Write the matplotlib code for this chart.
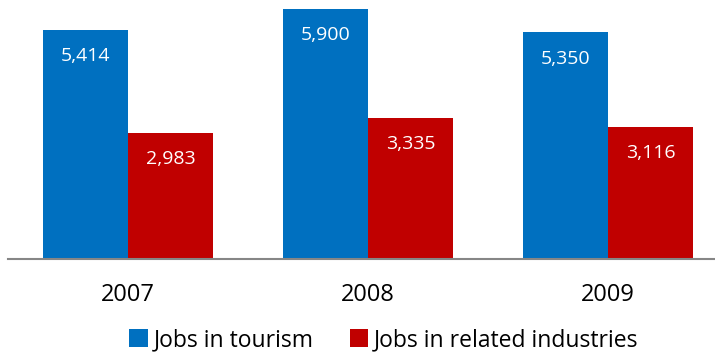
import matplotlib
matplotlib.use("Agg")
import matplotlib.pyplot as plt
import numpy as np
from matplotlib.patches import Patch

plt.rcParams['font.family'] = ['Open Sans', 'DejaVu Sans']

years = ["2007", "2008", "2009"]
tourism = [5414, 5900, 5350]
related = [2983, 3335, 3116]
series_names = ["Jobs in tourism", "Jobs in related industries"]
colors = ["#0070C0", "#C00000"]

W, H = 715, 354
fig = plt.figure(figsize=(W / 100, H / 100), dpi=100)

# plot area: x from 8 to 728 px (3 categories of 240 px), baseline at y=259
left, right = 8, 728
bottom_px, top_px = 259, 0
ax = fig.add_axes([left / W, 1 - bottom_px / H, (right - left) / W, (bottom_px - top_px) / H])

x = np.arange(len(years))
bw = 0.356
ax.bar(x - bw / 2, tourism, bw, color=colors[0], edgecolor="none")
ax.bar(x + bw / 2, related, bw, color=colors[1], edgecolor="none")

for xi, v in zip(x - bw / 2, tourism):
    ax.annotate(f"{v:,}", (xi, v), xytext=(0, -19), textcoords="offset points",
                ha="center", va="center", color="white", fontsize=14)
for xi, v in zip(x + bw / 2, related):
    ax.annotate(f"{v:,}", (xi, v), xytext=(0, -19), textcoords="offset points",
                ha="center", va="center", color="white", fontsize=14)

ax.set_xlim(-0.5, 2.5)
ax.set_ylim(0, 259 / 0.04239)
ax.set_xticks(x)
ax.set_xticklabels(years, fontsize=17)
ax.tick_params(axis="x", length=0, pad=17)
ax.set_yticks([])
for s in ["top", "right", "left"]:
    ax.spines[s].set_visible(False)
ax.spines["bottom"].set_color("#868686")
ax.spines["bottom"].set_linewidth(1.5)

handles = [Patch(facecolor=c, edgecolor="none") for c in colors]
fig.legend(handles, series_names, loc="center", bbox_to_anchor=(384 / W, 14 / H),
           ncol=2, frameon=False, fontsize=16.5, handlelength=0.8, handleheight=0.8,
           handletextpad=0.25, columnspacing=1.6, borderpad=0)

fig.savefig("out.png", dpi=100)
